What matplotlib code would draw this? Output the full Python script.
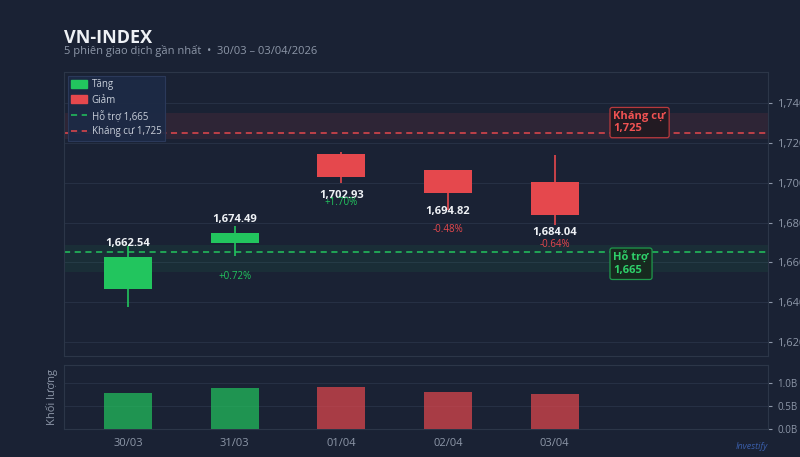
import matplotlib
matplotlib.use("Agg")
import matplotlib.pyplot as plt
from matplotlib.patches import Patch
from matplotlib.lines import Line2D
from matplotlib.ticker import FuncFormatter, MultipleLocator

plt.rcParams['font.family'] = ['Open Sans', 'DejaVu Sans']

# du lieu 5 phien
dates = ['30/03', '31/03', '01/04', '02/04', '03/04']
opens = [1646.3, 1669.8, 1714.4, 1706.4, 1700.3]
highs = [1668.4, 1678.1, 1715.4, 1706.5, 1714.1]
lows = [1637.6, 1663.0, 1700.0, 1686.3, 1679.0]
closes = [1662.54, 1674.49, 1702.93, 1694.82, 1684.04]
volumes = [0.80, 0.90, 0.93, 0.82, 0.77]  # ty co phieu
support = 1665
resistance = 1725

BG = '#1a2234'
GRID = '#263044'
SPINE = '#2c3648'
TXT = '#8d97a8'
GREEN = '#22c55e'
RED = '#e5484d'

fig = plt.figure(figsize=(8, 4.57), dpi=100, facecolor=BG)
ax = fig.add_axes([0.08, 0.221, 0.88, 0.6214], facecolor=BG)
axv = fig.add_axes([0.08, 0.0606, 0.88, 0.1407], facecolor=BG)

x = list(range(len(dates)))
w = 0.45

# vung ho tro / khang cu
ax.axhspan(support - 10, support + 3.5, color=GREEN, alpha=0.08, lw=0)
ax.axhspan(resistance - 3, resistance + 10, color=RED, alpha=0.10, lw=0)
ax.axhline(support, color=GREEN, ls=(0, (4, 3)), lw=1.1)
ax.axhline(resistance, color=RED, ls=(0, (4, 3)), lw=1.1)

for i in x:
    up = closes[i] >= opens[i]
    c = GREEN if up else RED
    ax.vlines(i, lows[i], highs[i], color=c, lw=1.2, zorder=3)
    lo = min(opens[i], closes[i])
    ax.bar(i, abs(closes[i] - opens[i]), w, bottom=lo, color=c, zorder=4)
    lbl = '{:,.2f}'.format(closes[i])
    if up:
        ax.annotate(lbl, (i, closes[i]), xytext=(0, 10), textcoords='offset points',
                    ha='center', va='center', color='#eef1f5', fontsize=8,
                    fontweight='bold', zorder=6)
    else:
        ax.annotate(lbl, (i, closes[i]), xytext=(0, -13), textcoords='offset points',
                    ha='center', va='center', color='#eef1f5', fontsize=8,
                    fontweight='bold', zorder=6)
    if i > 0:
        pct = (closes[i] / closes[i - 1] - 1) * 100
        pc = GREEN if pct >= 0 else RED
        ax.text(i, lows[i] - 10, '{:+.2f}%'.format(pct), ha='center', va='center',
                color=pc, fontsize=7, zorder=7)

# nhan khang cu / ho tro
ax.text(4.55, resistance - 0.6, 'Kháng cự\n1,725', ha='left', va='bottom',
        color='#f05252', fontsize=8, fontweight='bold', linespacing=1.2, zorder=8,
        bbox=dict(boxstyle='round,pad=0.3,rounding_size=0.2', fc='#221a22',
                  ec='#b8393d', lw=0.9))
ax.text(4.55, support + 0.5, 'Hỗ trợ\n1,665', ha='left', va='top',
        color='#2fd06a', fontsize=8, fontweight='bold', linespacing=1.2, zorder=8,
        bbox=dict(boxstyle='round,pad=0.3,rounding_size=0.2', fc='#17291f',
                  ec='#1f9a4c', lw=0.9))

ax.set_xlim(-0.6, 6.0)
ax.set_ylim(1612.8, 1755.8)
ax.yaxis.tick_right()
ax.yaxis.set_major_locator(MultipleLocator(20))
ax.yaxis.set_major_formatter(FuncFormatter(lambda v, p: '{:,.0f}'.format(v)))
ax.set_xticks([])
ax.grid(axis='y', color=GRID, lw=0.8)
ax.set_axisbelow(True)
ax.tick_params(axis='y', colors=TXT, labelsize=8, length=3, width=0.8)

handles = [Patch(color=GREEN, label='Tăng'),
           Patch(color=RED, label='Giảm'),
           Line2D([], [], color=GREEN, ls=(0, (4, 3)), lw=1.1, label='Hỗ trợ 1,665'),
           Line2D([], [], color=RED, ls=(0, (4, 3)), lw=1.1, label='Kháng cự 1,725')]
leg = ax.legend(handles=handles, loc='upper left', fontsize=7, frameon=True,
                facecolor='#1d2a45', edgecolor='#2c3b5c', framealpha=0.95,
                labelcolor='#c8cfda', handlelength=1.6, handleheight=0.9,
                handletextpad=0.5, borderpad=0.35, labelspacing=0.45,
                borderaxespad=0.4, fancybox=False)
leg.get_frame().set_linewidth(0.8)

# khoi luong
vcols = [GREEN if closes[i] >= opens[i] else RED for i in x]
axv.bar(x, volumes, w, color=vcols, alpha=0.7, zorder=3)
axv.set_xlim(-0.6, 6.0)
axv.set_ylim(0, 1.4)
axv.set_yticks([0, 0.5, 1.0])
axv.yaxis.set_major_formatter(FuncFormatter(lambda v, p: '{:.1f}B'.format(v)))
axv.yaxis.tick_right()
axv.set_xticks(x)
axv.set_xticklabels(dates)
axv.grid(axis='y', color=GRID, lw=0.8)
axv.set_axisbelow(True)
axv.tick_params(axis='y', colors=TXT, labelsize=7, length=3, width=0.8)
axv.tick_params(axis='x', colors=TXT, labelsize=8, length=0, pad=6)
axv.set_ylabel('Khối lượng', color=TXT, fontsize=8, labelpad=4)

for a in (ax, axv):
    for s in a.spines.values():
        s.set_color(SPINE)
        s.set_linewidth(0.8)

fig.text(0.08, 0.905, 'VN-INDEX', color='#eef1f5', fontsize=13, fontweight='bold',
         ha='left', va='baseline')
fig.text(0.08, 0.882, '5 phiên giao dịch gần nhất  •  30/03 – 03/04/2026', color=TXT,
         fontsize=8, ha='left', va='baseline')
fig.text(0.96, 0.022, 'Investify', color='#3a5eaa', fontsize=6.5, style='italic',
         ha='right', va='center')

fig.savefig('out.png', dpi=100, facecolor=BG)
